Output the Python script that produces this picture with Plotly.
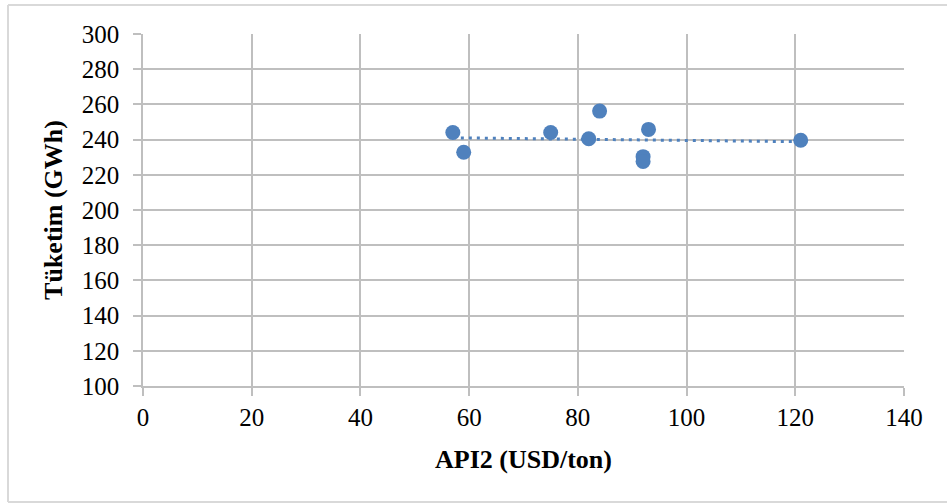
import numpy as np
import plotly.graph_objects as go

# API2 coal price (USD/ton) vs. electricity consumption (GWh)
api2_price = [57, 59, 75, 84, 82, 93, 92, 92, 121]
consumption = [244, 232.8, 244, 256.2, 240.5, 245.8, 230.3, 227.6, 239.6]

x_ticks = [0, 20, 40, 60, 80, 100, 120, 140]
y_ticks = [100, 120, 140, 160, 180, 200, 220, 240, 260, 280, 300]

BLUE = "#4F81BD"
GRID = "#BFBFBF"
FRAME = "#D9D9D9"
FONT = "Liberation Serif, Times New Roman, serif"

# Linear trend line over the observed price range
slope, intercept = np.polyfit(api2_price, consumption, 1)
trend_x = np.array([min(api2_price), max(api2_price)])
trend_y = slope * trend_x + intercept

fig = go.Figure()
fig.add_trace(go.Scatter(
    x=trend_x, y=trend_y, mode="lines",
    line=dict(color=BLUE, width=3, dash="3px,5px"),
    hoverinfo="skip", showlegend=False,
))
fig.add_trace(go.Scatter(
    x=api2_price, y=consumption, mode="markers",
    marker=dict(color=BLUE, size=15, line=dict(width=0)),
    showlegend=False,
))

# Chart frame: top, left and bottom edges running to the right side
fx0, fx1 = -135 / 761, 1 + 43 / 761
fy0, fy1 = -116 / 352, 1 + 29 / 352
frame_style = dict(type="line", xref="paper", yref="paper",
                   line=dict(color=FRAME, width=2), layer="below")
frame = [
    dict(x0=fx0, x1=fx1, y0=fy1, y1=fy1, **frame_style),
    dict(x0=fx0, x1=fx1, y0=fy0, y1=fy0, **frame_style),
    dict(x0=fx0, x1=fx0, y0=fy0, y1=fy1, **frame_style),
]

fig.update_layout(
    width=947, height=504,
    margin=dict(l=143, r=43, t=34, b=118),
    paper_bgcolor="white", plot_bgcolor="white",
    font=dict(family=FONT, color="black", size=25),
    xaxis=dict(
        range=[0, 140], tickvals=x_ticks, showgrid=True, gridcolor=GRID, gridwidth=1.5,
        zeroline=False, showline=True, linecolor=GRID, linewidth=1.5, mirror=False,
        ticks="outside", ticklen=8, tickcolor=GRID, tickwidth=1.5,
        tickfont=dict(size=25, family=FONT),
        title=dict(text="<b>API2 (USD/ton)</b>", font=dict(size=26, family=FONT), standoff=20),
    ),
    yaxis=dict(
        range=[100, 300], tickvals=y_ticks, showgrid=True, gridcolor=GRID, gridwidth=1.5,
        zeroline=False, showline=True, linecolor=GRID, linewidth=1.5,
        ticks="outside", ticklen=8, tickcolor=GRID, tickwidth=1.5,
        ticklabelstandoff=9,
        tickfont=dict(size=25, family=FONT),
        title=dict(text="<b>Tüketim (GWh)</b>", font=dict(size=26, family=FONT), standoff=12),
    ),
    shapes=frame,
)

fig.write_html("out.html", config={"displayModeBar": False})
